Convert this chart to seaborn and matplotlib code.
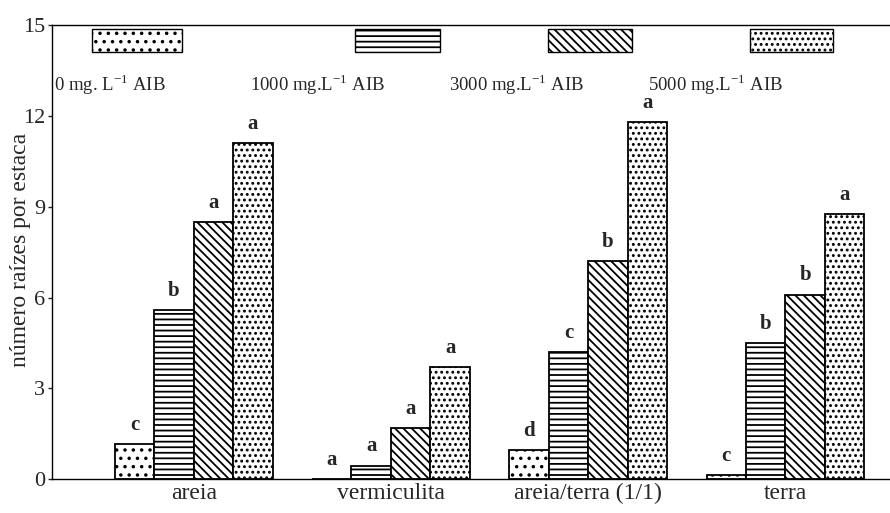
import matplotlib
matplotlib.use("Agg")
import matplotlib.pyplot as plt
from matplotlib.patches import Rectangle
import seaborn as sns
import pandas as pd

substrates = ["areia", "vermiculita", "areia/terra (1/1)", "terra"]
doses = ["0 mg. L$^{\\mathregular{-1}}$ AIB", "1000 mg.L$^{\\mathregular{-1}}$ AIB",
         "3000 mg.L$^{\\mathregular{-1}}$ AIB", "5000 mg.L$^{\\mathregular{-1}}$ AIB"]
dose_0 = [1.15, 0.0, 0.95, 0.15]
dose_1000 = [5.6, 0.45, 4.2, 4.5]
dose_3000 = [8.5, 1.7, 7.2, 6.1]
dose_5000 = [11.1, 3.7, 11.8, 8.75]
letters_0 = ["c", "a", "d", "c"]
letters_1000 = ["b", "a", "c", "b"]
letters_3000 = ["a", "a", "b", "b"]
letters_5000 = ["a", "a", "a", "a"]
yticks = [0, 3, 6, 9, 12, 15]

series = [dose_0, dose_1000, dose_3000, dose_5000]
letters = [letters_0, letters_1000, letters_3000, letters_5000]
rows = []
for d, vals in zip(doses, series):
    for s, v in zip(substrates, vals):
        rows.append({"substrato": s, "dose": d, "valor": v})
df = pd.DataFrame(rows)

sns.set_theme(style="white")
plt.rcParams["font.family"] = ["Liberation Serif", "DejaVu Serif"]
plt.rcParams["mathtext.fontset"] = "custom"
plt.rcParams["mathtext.rm"] = "Liberation Serif"
plt.rcParams["hatch.linewidth"] = 1.3
plt.rcParams["hatch.color"] = "black"

fig = plt.figure(figsize=(8.9, 5.13), dpi=100)
ax = fig.add_axes([0.058, 0.066, 0.942, 0.885])

hatches = ["..", "---", "\\\\\\\\", "..."]
sns.barplot(data=df, x="substrato", y="valor", hue="dose", order=substrates,
            hue_order=doses, palette=["white"] * 4, edgecolor="black",
            linewidth=1.3, width=0.8, legend=False, ax=ax)

for cont, h, labs in zip(ax.containers, hatches, letters):
    for patch, lab in zip(cont.patches, labs):
        patch.set_hatch(h)
        patch.set_edgecolor("black")
        x = patch.get_x() + patch.get_width() / 2
        y = patch.get_height()
        ax.text(x, y + 0.3, lab, ha="center", va="bottom", fontsize=15,
                fontweight="bold")

ax.set_ylim(0, 15)
ax.set_xlim(-0.72, 3.53)
ax.set_yticks(yticks)
ax.set_yticklabels([str(t) for t in yticks], fontsize=16)
ax.tick_params(axis="y", direction="out", length=3, width=1, left=True, pad=1.5)
ax.tick_params(axis="x", length=0, labelsize=17, pad=3)
ax.set_xlabel("")
ax.set_ylabel("número raízes por estaca", fontsize=17)
ax.yaxis.set_label_coords(-0.024, 0.504)
for side in ["left", "bottom", "top"]:
    ax.spines[side].set_visible(True)
    ax.spines[side].set_color("black")
    ax.spines[side].set_linewidth(1.0)
ax.spines["right"].set_visible(False)

# custom legend: swatches above labels
patch_x = [92, 355, 548, 750]
patch_w = [90, 85, 84, 83]
label_x = [52, 248, 447, 646]
x0, w_ax = 52, 838
for px, pw, lx, h, d in zip(patch_x, patch_w, label_x, hatches, doses):
    r = Rectangle(((px - x0) / w_ax, 1 - (50 - 25) / 454 - 0.005), pw / w_ax, 23 / 454,
                  transform=ax.transAxes, facecolor="white", edgecolor="black",
                  hatch=h, linewidth=1.0, clip_on=False)
    ax.add_patch(r)
    ax.text((lx - x0 + 2) / w_ax, 1 - (84 - 25) / 454, d, transform=ax.transAxes,
            ha="left", va="center", fontsize=13.5)

fig.savefig("out.png", dpi=100)
